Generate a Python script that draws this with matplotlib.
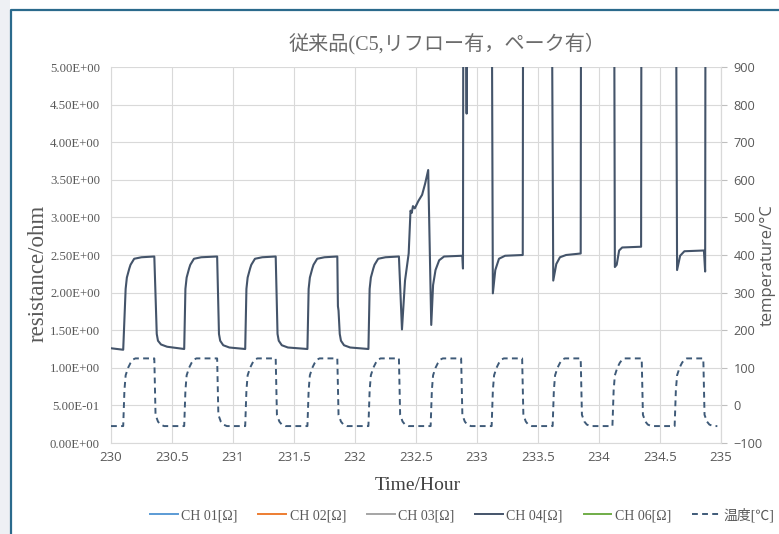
import matplotlib
matplotlib.use("Agg")
import matplotlib.pyplot as plt
from matplotlib.lines import Line2D
from matplotlib.patches import Rectangle
from matplotlib.ticker import FuncFormatter, MultipleLocator

# ---------------- data ----------------
title = "従来品(C5,リフロー有，ペーク有）"
x_label = "Time/Hour"
y_label = "resistance/ohm"
y2_label = "temperature/°C"
legend_labels = ["CH 01[Ω]", "CH 02[Ω]", "CH 03[Ω]", "CH 04[Ω]", "CH 06[Ω]", "温度[℃]"]

temp_time = [
    230.00,
    230.10, 230.11, 230.12, 230.14, 230.16, 230.18, 230.20, 230.355, 230.365, 230.385, 230.405, 230.435,
    230.60, 230.61, 230.62, 230.64, 230.66, 230.68, 230.70, 230.87, 230.88, 230.90, 230.92, 230.95,
    231.10, 231.11, 231.12, 231.14, 231.16, 231.18, 231.20, 231.35, 231.36, 231.38, 231.40, 231.43,
    231.61, 231.62, 231.63, 231.65, 231.67, 231.69, 231.71, 231.855, 231.865, 231.885, 231.905, 231.935,
    232.11, 232.12, 232.13, 232.15, 232.17, 232.19, 232.21, 232.36, 232.37, 232.39, 232.41, 232.44,
    232.62, 232.63, 232.64, 232.66, 232.68, 232.70, 232.72, 232.87, 232.88, 232.90, 232.92, 232.95,
    233.12, 233.13, 233.14, 233.16, 233.18, 233.20, 233.22, 233.37, 233.38, 233.40, 233.42, 233.45,
    233.62, 233.63, 233.64, 233.66, 233.68, 233.70, 233.72, 233.85, 233.86, 233.88, 233.90, 233.93,
    234.11, 234.12, 234.13, 234.15, 234.17, 234.19, 234.21, 234.35, 234.36, 234.38, 234.40, 234.43,
    234.62, 234.63, 234.64, 234.66, 234.68, 234.70, 234.72, 234.855, 234.865, 234.885, 234.905, 234.935,
    234.97,
]
temp_value = [
    -55,
    -55, 40, 80, 100, 113, 122, 125, 125, -25, -43, -51, -55,
    -55, 40, 80, 100, 113, 122, 125, 125, -25, -43, -51, -55,
    -55, 40, 80, 100, 113, 122, 125, 125, -25, -43, -51, -55,
    -55, 40, 80, 100, 113, 122, 125, 125, -25, -43, -51, -55,
    -55, 40, 80, 100, 113, 122, 125, 125, -25, -43, -51, -55,
    -55, 40, 80, 100, 113, 122, 125, 125, -25, -43, -51, -55,
    -55, 40, 80, 100, 113, 122, 125, 125, -25, -43, -51, -55,
    -55, 40, 80, 100, 113, 122, 125, 125, -25, -43, -51, -55,
    -55, 40, 80, 100, 113, 122, 125, 125, -25, -43, -51, -55,
    -55, 40, 80, 100, 113, 122, 125, 125, -25, -43, -51, -55,
    -55,
]

ch04_time = [
    230.00, 230.10, 230.12, 230.13, 230.15, 230.16, 230.19, 230.25, 230.355, 230.375, 230.385, 230.41, 230.46,
    230.60, 230.61, 230.62, 230.64, 230.65, 230.68, 230.74, 230.87, 230.885, 230.895, 230.92, 230.97,
    231.10, 231.11, 231.12, 231.14, 231.15, 231.18, 231.24, 231.35, 231.365, 231.375, 231.40, 231.45,
    231.61, 231.62, 231.63, 231.65, 231.66, 231.69, 231.75, 231.855, 231.86, 231.865, 231.875, 231.885, 231.91, 231.96,
    232.11, 232.12, 232.13, 232.15, 232.16, 232.19, 232.25, 232.36, 232.385, 232.41, 232.44, 232.455, 232.465,
    232.475, 232.49, 232.52, 232.55, 232.575, 232.60, 232.625, 232.64, 232.66, 232.69, 232.73, 232.88, 232.885,
    232.89, 232.905, 232.915, 232.92, 233.115, 233.13, 233.15, 233.18, 233.23, 233.375,
    233.38, 233.605, 233.625, 233.65, 233.68, 233.73, 233.85,
    233.855, 234.12, 234.13, 234.145, 234.165, 234.19, 234.345,
    234.35, 234.625, 234.64, 234.665, 234.70, 234.86, 234.87, 234.875,
]
ch04_value = [
    1.26, 1.24, 2.05, 2.20, 2.32, 2.37, 2.45, 2.47, 2.48, 1.45, 1.36, 1.31, 1.28,
    1.25, 2.05, 2.20, 2.32, 2.37, 2.45, 2.47, 2.48, 1.45, 1.36, 1.30, 1.27,
    1.25, 2.05, 2.20, 2.32, 2.37, 2.45, 2.47, 2.48, 1.45, 1.36, 1.30, 1.27,
    1.25, 2.05, 2.20, 2.32, 2.37, 2.45, 2.47, 2.48, 1.82, 1.76, 1.45, 1.36, 1.30, 1.27,
    1.25, 2.05, 2.20, 2.32, 2.37, 2.45, 2.47, 2.48, 1.51, 2.16, 2.52, 3.09, 3.06,
    3.15, 3.12, 3.22, 3.30, 3.45, 3.63, 1.57, 2.10, 2.30, 2.43, 2.48, 2.49, 2.32,
    9.0, 9.0, 4.38, 9.0, 9.0, 1.99, 2.30, 2.45, 2.49, 2.50,
    9.0, 9.0, 2.16, 2.38, 2.47, 2.50, 2.52,
    9.0, 9.0, 2.34, 2.37, 2.56, 2.60, 2.61,
    9.0, 9.0, 2.30, 2.49, 2.55, 2.56, 2.28, 9.0,
]

x_ticks = [230, 230.5, 231, 231.5, 232, 232.5, 233, 233.5, 234, 234.5, 235]

# ---------------- style ----------------
W, H = 779, 534
fig = plt.figure(figsize=(W / 100, H / 100), dpi=100)
fig.patch.set_facecolor("white")

# left page strip and chart-area border
fig.patches.append(Rectangle((0, 0), 10 / W, 1, transform=fig.transFigure,
                             facecolor="#eef0f4", edgecolor="none", zorder=0))
fig.add_artist(Line2D([11 / W, 11 / W, 1.0], [0, 1 - 10 / H, 1 - 10 / H],
                      transform=fig.transFigure, color="#2b6a8c", lw=1.6))

ax = fig.add_axes([111 / W, 1 - 443 / H, 610 / W, 376 / H])
ax2 = ax.twinx()

serif = ["Liberation Serif", "Noto Sans CJK JP"]
sans = ["Open Sans", "DejaVu Sans"]
grey = "#595959"

ax.set_xlim(230, 235)
ax.set_ylim(0, 5)
ax2.set_ylim(-100, 900)
ax.set_xticks(x_ticks)
ax.yaxis.set_major_locator(MultipleLocator(0.5))
ax2.yaxis.set_major_locator(MultipleLocator(100))
ax.grid(True, color="#d9d9d9", lw=0.8)
ax.set_axisbelow(True)

ax.xaxis.set_major_formatter(FuncFormatter(lambda v, p: f"{v:g}"))
ax.yaxis.set_major_formatter(FuncFormatter(lambda v, p: f"{v:.2E}"))

for s in ["top"]:
    ax.spines[s].set_visible(False)
    ax2.spines[s].set_visible(False)
for s in ["left", "bottom", "right"]:
    ax.spines[s].set_color("#d9d9d9")
    ax2.spines[s].set_color("#d9d9d9")
ax2.spines["left"].set_visible(False)
ax2.spines["bottom"].set_visible(False)

ax.tick_params(axis="x", length=0, pad=6, labelsize=9.5, labelcolor=grey)
ax.tick_params(axis="y", length=0, pad=8, labelsize=9.2, labelcolor=grey)
ax2.tick_params(axis="y", length=4, color="#bfbfbf", pad=5, labelsize=9.2, labelcolor=grey)
for t in ax.get_xticklabels():
    t.set_family(sans)
for t in ax.get_yticklabels():
    t.set_family(serif)
for t in ax2.get_yticklabels():
    t.set_family(sans)

ax.plot(ch04_time, ch04_value, color="#44546a", lw=1.5, zorder=3)
ax2.plot(temp_time, temp_value, color="#3e5a78", lw=1.4, dashes=(3.0, 2.2), zorder=3)

fig.text(447 / W, 1 - 44 / H, title, ha="center", va="center", fontsize=14.5,
         color="#6b6b6b", family=serif)
fig.text(38 / W, 1 - 273 / H, y_label, ha="center", va="center", rotation=90,
         fontsize=16.5, color=grey, family=serif)
fig.text(768 / W, 1 - 265 / H, y2_label, ha="center", va="center", rotation=90,
         fontsize=12, color=grey, family=sans)
fig.text(418 / W, 1 - 486 / H, x_label, ha="center", va="center",
         fontsize=14, color="#404040", family=serif)

legend_colors = ["#5b9bd5", "#ed7d31", "#a5a5a5", "#44546a", "#70ad47", "#3e5a78"]
handles = []
for i, (lab, c) in enumerate(zip(legend_labels, legend_colors)):
    if i == 5:
        handles.append(Line2D([], [], color=c, lw=1.4, dashes=(3.0, 2.2)))
    else:
        handles.append(Line2D([], [], color=c, lw=1.4))
leg = fig.legend(handles, legend_labels, loc="center", bbox_to_anchor=(462 / W, 1 - 515 / H),
                 ncol=6, frameon=False, handlelength=2.0, handletextpad=0.25,
                 columnspacing=1.5, prop={"family": serif, "size": 10})
for t in leg.get_texts():
    t.set_color(grey)

fig.savefig("out.png", dpi=100)
